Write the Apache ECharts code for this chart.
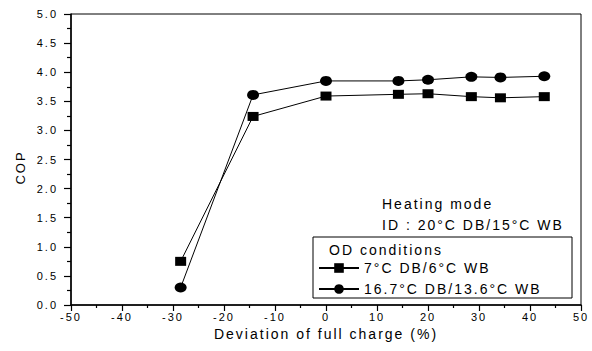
<!DOCTYPE html>
<html>
<head>
<meta charset="utf-8">
<script src="https://cdn.jsdelivr.net/npm/echarts@6/dist/echarts.min.js"></script>
<style>
  html, body { margin: 0; padding: 0; background: #fff; }
  #chart { width: 592px; height: 351px; }
  #chart text { letter-spacing: 2px; }
</style>
</head>
<body>
<div id="chart"></div>
<script>
// Data
var deviation = [-28.5, -14.3, 0, 14.2, 20, 28.5, 34.2, 42.8];
var cop7DB = [0.75, 3.24, 3.59, 3.62, 3.63, 3.58, 3.56, 3.58];
var cop167DB = [0.30, 3.61, 3.85, 3.85, 3.87, 3.92, 3.91, 3.93];
var seriesNames = ['7°C DB/6°C WB', '16.7°C DB/13.6°C WB'];
var xTicks = { min: -50, max: 50, interval: 10 };
var yTicks = { min: 0, max: 5, interval: 0.5 };
var annotationLines = ['Heating mode', 'ID : 20°C DB/15°C WB'];
var legendTitle = 'OD conditions';

function pairs(xs, ys) {
  return xs.map(function (x, i) { return [x, ys[i]]; });
}

var FONT = '"Liberation Sans", Arial, sans-serif';
var chart = echarts.init(document.getElementById('chart'), null, { renderer: 'svg' });

chart.setOption({
  animation: false,
  backgroundColor: '#fff',
  textStyle: { fontFamily: FONT, color: '#000' },
  grid: {
    left: 71, right: 11, top: 14, bottom: 46,
    show: true, borderColor: '#000', borderWidth: 1, backgroundColor: 'transparent'
  },
  xAxis: {
    type: 'value',
    min: xTicks.min, max: xTicks.max, interval: xTicks.interval,
    name: 'Deviation of full charge (%)',
    nameLocation: 'middle', nameGap: 20,
    nameTextStyle: { fontSize: 14, color: '#000', fontFamily: FONT },
    axisLine: { show: true, onZero: false, lineStyle: { color: '#000', width: 1.5 } },
    axisTick: { show: true, inside: false, length: 6, lineStyle: { color: '#000', width: 1.2 } },
    minorTick: { show: true, splitNumber: 2, length: 3, lineStyle: { color: '#000', width: 1.2 } },
    axisLabel: { fontSize: 11, color: '#000', margin: 6, fontFamily: FONT },
    splitLine: { show: false }
  },
  yAxis: {
    type: 'value',
    min: yTicks.min, max: yTicks.max, interval: yTicks.interval,
    name: 'COP',
    nameLocation: 'middle', nameGap: 44,
    nameTextStyle: { fontSize: 13, color: '#000', fontFamily: FONT, padding: [0, 16, 0, 0] },
    axisLine: { show: true, onZero: false, lineStyle: { color: '#000', width: 1.5 } },
    axisTick: { show: true, inside: false, length: 7, lineStyle: { color: '#000', width: 1.2 } },
    minorTick: { show: true, splitNumber: 2, length: 4, lineStyle: { color: '#000', width: 1.2 } },
    axisLabel: {
      fontSize: 11, color: '#000', margin: 13, fontFamily: FONT,
      formatter: function (v) { return v.toFixed(1); }
    },
    splitLine: { show: false }
  },
  legend: {
    orient: 'vertical',
    left: 318, top: 261,
    padding: 0,
    itemWidth: 40, itemHeight: 12, itemGap: 7,
    textStyle: { fontSize: 14, color: '#000', fontFamily: FONT },
    data: [seriesNames[0], seriesNames[1]]
  },
  graphic: [
    {
      type: 'rect', z: 0,
      shape: { x: 313, y: 237, width: 259, height: 61 },
      style: { fill: 'none', stroke: '#000', lineWidth: 1 }
    },
    {
      type: 'text', x: 329, y: 250,
      style: { text: legendTitle, font: '14px ' + FONT, fill: '#000', textAlign: 'left', textVerticalAlign: 'middle' }
    },
    {
      type: 'text', x: 382, y: 204,
      style: { text: annotationLines[0], font: '14px ' + FONT, fill: '#000', textAlign: 'left', textVerticalAlign: 'middle' }
    },
    {
      type: 'text', x: 382, y: 225,
      style: { text: annotationLines[1], font: '14px ' + FONT, fill: '#000', textAlign: 'left', textVerticalAlign: 'middle' }
    }
  ],
  series: [
    {
      name: seriesNames[0],
      type: 'line',
      data: pairs(deviation, cop7DB),
      symbol: 'rect', symbolSize: [11, 9],
      showAllSymbol: true,
      itemStyle: { color: '#000' },
      lineStyle: { color: '#000', width: 1 }
    },
    {
      name: seriesNames[1],
      type: 'line',
      data: pairs(deviation, cop167DB),
      symbol: 'circle', symbolSize: [12, 10],
      showAllSymbol: true,
      itemStyle: { color: '#000' },
      lineStyle: { color: '#000', width: 1 }
    }
  ]
});
</script>
</body>
</html>
